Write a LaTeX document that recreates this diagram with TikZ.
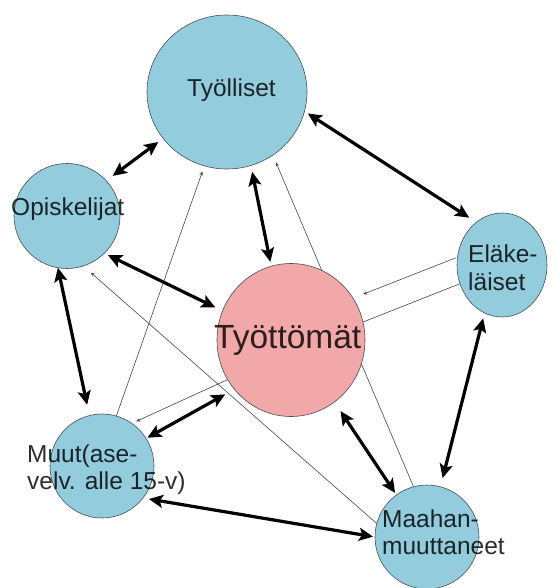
\documentclass[tikz,border=0pt]{standalone}
\usepackage{fontspec}
\setmainfont{Liberation Sans}
\usetikzlibrary{shapes.geometric,arrows.meta}
\pgfdeclarelayer{bg}
\pgfsetlayers{bg,main}
\definecolor{cblue}{RGB}{147,205,221}
\definecolor{cpink}{RGB}{242,168,168}
\definecolor{cedge}{RGB}{70,80,85}
\definecolor{cthin}{RGB}{70,70,70}
\begin{document}
\begin{tikzpicture}[x=1pt,y=-1pt,
  circ/.style={ellipse,inner sep=0pt,outer sep=0pt,draw=cedge,line width=0.6pt},
  bluec/.style={circ,fill=cblue},
  pinkc/.style={circ,fill=cpink},
  big/.style={line width=3.2pt,>={Stealth[length=14pt,width=13pt,inset=3pt]},<->},
  thinl/.style={line width=0.6pt,draw=cthin,>={Stealth[length=4pt,width=3.5pt]}},
  lbl/.style={font=\fontsize{24.5}{28}\selectfont,text=black,text opacity=0.82,inner sep=0pt,anchor=base west},
  biglbl/.style={lbl,font=\fontsize{33.5}{38}\selectfont}]
\useasboundingbox (0,0) rectangle (553,588);
% circles
\node[bluec,minimum width=160pt,minimum height=154pt] (ty) at (227,92) {};
\node[bluec,minimum width=106pt,minimum height=105pt] (op) at (67,216) {};
\node[bluec,minimum width=90pt,minimum height=104pt] (el) at (502,265) {};
\node[pinkc,minimum width=148pt,minimum height=153pt] (tt) at (291,340) {};
\node[bluec,minimum width=104pt,minimum height=104pt] (mu) at (102,466) {};
\node[bluec,minimum width=104pt,minimum height=104pt] (ma) at (427,537) {};
% thin lines behind
\begin{pgfonlayer}{bg}
\draw[thinl,<-,shorten <=6pt] (ty.-107) -- (mu.74);
\draw[thinl,<-,shorten <=8pt] (ty.-54) -- (ma.105);
\draw[thinl,<-,shorten <=10pt] (op.-72) -- (ma.165);
\draw[thinl,<-,shorten <=5pt] (mu.55) -- (tt.212);
\draw[thinl,->,shorten >=11pt,shorten <=2pt] (el.170) -- (tt.34);
\draw[thinl] (el.204) -- (tt.14);
\end{pgfonlayer}
% thick arrows
\draw[big,shorten <=8pt,shorten >=6pt] (op.42) -- (ty.216);
\draw[big,shorten <=4pt,shorten >=8.5pt] (ty.-14.5) -- (el.121);
\draw[big,shorten <=6.5pt,shorten >=4.5pt] (ty.-72.6) -- (tt.105);
\draw[big,shorten <=4pt,shorten >=8pt] (op.-45.7) -- (tt.157);
\draw[big,shorten <=0pt,shorten >=11pt] (op.-100) -- (mu.104);
\draw[big,shorten <=10.5pt,shorten >=1.5pt] (tt.221.7) -- (mu.32.8);
\draw[big,shorten <=6pt,shorten >=2pt] (mu.-38) -- (ma.180);
\draw[big,shorten <=11pt,shorten >=2.4pt] (tt.-55.8) -- (ma.126);
\draw[big,shorten <=5.6pt,shorten >=9pt] (el.-110.7) -- (ma.75.7);
% labels
\node[lbl] (tyl) at (187,97) {Työlliset};
\node[lbl] (opl) at (11,215) {Opiskelijat};
\node[lbl] (ell1) at (468,262) {Eläke-};
\node[lbl] (ell2) at (468,290) {läiset};
\node[biglbl] (ttl) at (214,348) {Työttömät};
\node[lbl] (mul1) at (27,462) {Muut(ase-};
\node[lbl] (mul2) at (27,489) {velv. alle 15-v)};
\node[lbl] (mal1) at (382,527) {Maahan-};
\node[lbl] (mal2) at (382,554) {muuttaneet};
\end{tikzpicture}
\end{document}
